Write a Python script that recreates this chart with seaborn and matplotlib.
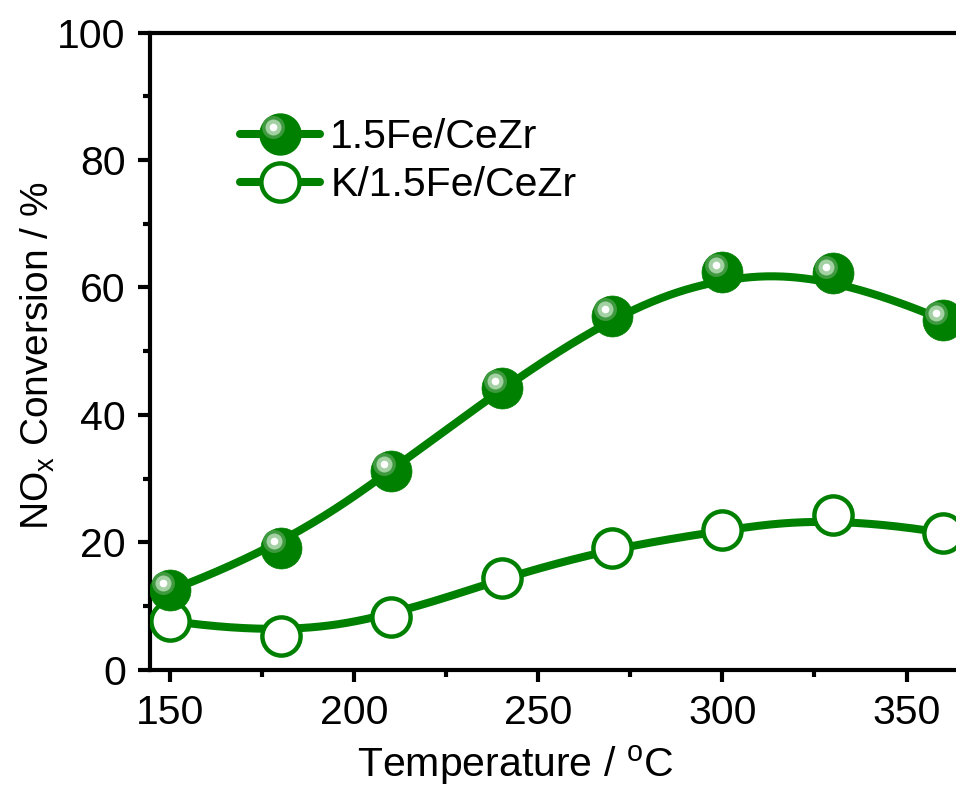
import numpy as np
import pandas as pd
import matplotlib
matplotlib.use("Agg")
import matplotlib.pyplot as plt
import matplotlib.transforms as mtransforms
from matplotlib.lines import Line2D
from matplotlib.legend_handler import HandlerLine2D, HandlerTuple
from matplotlib.ticker import MultipleLocator
import seaborn as sns

# Temperature (°C) and NOx conversion (%) for the two catalysts
temperature = [150, 180, 210, 240, 270, 300, 330, 360]
fe_cezr = [12.5, 19.1, 31.2, 44.2, 55.5, 62.5, 62.2, 54.9]
k_fe_cezr = [7.7, 5.3, 8.3, 14.4, 19.1, 21.9, 24.3, 21.5]
series_names = ["1.5Fe/CeZr", "K/1.5Fe/CeZr"]

GREEN = "#008000"
SHINE = [(16.5, "#3f9a3f"), (11.5, "#a3d1a3"), (5.5, "white")]

sns.set_theme(style="ticks")
plt.rcParams["font.family"] = ["Liberation Sans", "DejaVu Sans"]
plt.rcParams["mathtext.fontset"] = "custom"
plt.rcParams["mathtext.rm"] = "Liberation Sans"
plt.rcParams["mathtext.it"] = "Liberation Sans"
plt.rcParams["text.color"] = "black"
plt.rcParams["axes.labelcolor"] = "black"


def bspline_curve(x, y, n=400, k=3):
    """Clamped cubic B-spline using the measured points as control points."""
    P = np.column_stack([np.asarray(x, float), np.asarray(y, float)])
    m = len(P)
    t = np.concatenate([np.zeros(k + 1), np.arange(1, m - k), np.full(k + 1, m - k)])
    u = np.linspace(0, m - k, n)
    u[-1] -= 1e-9
    N = np.zeros((n, len(t) - 1))
    for i in range(len(t) - 1):
        N[:, i] = (t[i] <= u) & (u < t[i + 1])
    for d in range(1, k + 1):
        Nn = np.zeros((n, len(t) - 1 - d))
        for i in range(len(t) - 1 - d):
            a = 0.0
            b = 0.0
            if t[i + d] != t[i]:
                a = (u - t[i]) / (t[i + d] - t[i]) * N[:, i]
            if t[i + d + 1] != t[i + 1]:
                b = (t[i + d + 1] - u) / (t[i + d + 1] - t[i + 1]) * N[:, i + 1]
            Nn[:, i] = a + b
        N = Nn
    C = N @ P
    return C[:, 0], C[:, 1]


points = pd.DataFrame({
    "Temperature": temperature * 2,
    "Conversion": fe_cezr + k_fe_cezr,
    "Sample": [series_names[0]] * len(temperature) + [series_names[1]] * len(temperature),
})

curves = []
for name, vals in zip(series_names, [fe_cezr, k_fe_cezr]):
    xs, ys = bspline_curve(temperature, vals)
    curves.append(pd.DataFrame({"Temperature": xs, "Conversion": ys, "Sample": name}))
curves = pd.concat(curves, ignore_index=True)

fig = plt.figure(figsize=(9.56, 7.87), dpi=100)
ax = fig.add_axes([0.157, 0.1487, 0.849, 0.810])

LW = 5.8
MS = 29.5
FS = 29.5

# smooth connecting curves
sns.lineplot(data=curves, x="Temperature", y="Conversion", hue="Sample",
             palette=[GREEN, GREEN], linewidth=LW, legend=False, ax=ax,
             zorder=2, sort=False, estimator=None)

fe_pts = points[points["Sample"] == series_names[0]]
k_pts = points[points["Sample"] == series_names[1]]

# open circles
ax.plot(k_pts["Temperature"], k_pts["Conversion"], linestyle="none",
        marker="o", markersize=MS - 2, markerfacecolor="white",
        markeredgecolor=GREEN, markeredgewidth=3.2, zorder=3)

# shaded spheres
ax.plot(fe_pts["Temperature"], fe_pts["Conversion"], linestyle="none",
        marker="o", markersize=MS, markerfacecolor=GREEN,
        markeredgecolor=GREEN, markeredgewidth=0.5, zorder=4)
shine = mtransforms.ScaledTranslation(-5 / 72, 5 / 72, fig.dpi_scale_trans)
for size, color in SHINE:
    ax.plot(fe_pts["Temperature"], fe_pts["Conversion"], linestyle="none",
            marker="o", markersize=size, markerfacecolor=color,
            markeredgewidth=0, zorder=5, transform=ax.transData + shine)

ax.set_xlim(144.5, 365)
ax.set_ylim(0, 100)
ax.xaxis.set_major_locator(MultipleLocator(50))
ax.xaxis.set_minor_locator(MultipleLocator(25))
ax.yaxis.set_major_locator(MultipleLocator(20))
ax.yaxis.set_minor_locator(MultipleLocator(10))

for side in ["left", "bottom", "top", "right"]:
    ax.spines[side].set_linewidth(3)
    ax.spines[side].set_color("black")

ax.tick_params(which="major", direction="out", length=8.5, width=3,
               labelsize=FS, colors="black", pad=9)
ax.tick_params(which="minor", direction="out", length=5, width=3, colors="black")
ax.tick_params(top=False, right=False, which="both")

ax.set_xlabel("Temperature / $^{\\mathrm{o}}$C", fontsize=FS)
ax.xaxis.set_label_coords(0.45, -0.115)
ax.set_ylabel("NO$_{\\mathrm{x}}$ Conversion / %", fontsize=28)
ax.yaxis.set_label_coords(-0.115, 0.493)


class ShineHandler(HandlerLine2D):
    def create_artists(self, legend, orig_handle, xdescent, ydescent,
                       width, height, fontsize, trans):
        artists = super().create_artists(legend, orig_handle, xdescent, ydescent,
                                         width, height, fontsize, trans)
        off = mtransforms.ScaledTranslation(-5 / 72, 5 / 72, legend.figure.dpi_scale_trans)
        for a in artists:
            a.set_transform(a.get_transform() + off)
        return artists


h_fe = Line2D([], [], color=GREEN, linewidth=LW, marker="o", markersize=MS,
              markerfacecolor=GREEN, markeredgecolor=GREEN)
shine_handles = [Line2D([], [], linestyle="none", marker="o", markersize=s,
                        markerfacecolor=c, markeredgewidth=0)
                 for s, c in SHINE]
h_k = Line2D([], [], color=GREEN, linewidth=LW, marker="o", markersize=MS - 2,
             markerfacecolor="white", markeredgecolor=GREEN, markeredgewidth=3.2)

handler_map = {tuple: HandlerTuple(ndivide=1, pad=0)}
for sh in shine_handles:
    handler_map[sh] = ShineHandler()

ax.legend([tuple([h_fe] + shine_handles), h_k], series_names,
          loc="upper left", bbox_to_anchor=(0.111, 0.866), frameon=False,
          fontsize=FS, handlelength=1.95, handletextpad=0.25,
          labelspacing=0.25, borderaxespad=0, borderpad=0,
          handler_map=handler_map)

fig.savefig("out.png", dpi=100)
